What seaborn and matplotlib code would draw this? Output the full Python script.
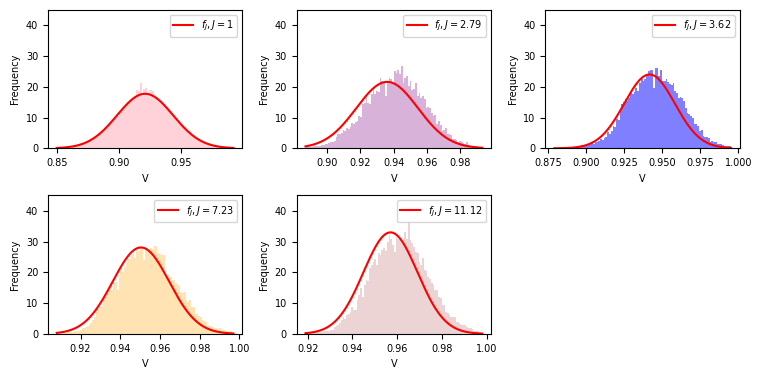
import numpy as np
import pandas as pd
import matplotlib
matplotlib.use("Agg")
import matplotlib.pyplot as plt
import seaborn as sns

# J values shown in legends
j_labels = ["1", "2.79", "3.62", "7.23", "11.12"]

# histogram range (min, max of V) per panel, 100 bins each
v_ranges = [(0.850, 0.992), (0.887, 0.993), (0.879, 0.995), (0.908, 0.997), (0.919, 0.998)]

# fitted normal parameters
fit_mu = [0.921, 0.936, 0.9416, 0.9504, 0.957]
fit_sigma = [0.0225, 0.01847, 0.01662, 0.0142, 0.01209]

# density heights of the 100 bars
heights_j1 = [
    0.1, 0.1, 0.2, 0.2, 0.3, 0.3, 0.4, 0.5, 0.5, 0.6,
    0.8, 0.9, 1.0, 1.2, 1.4, 1.6, 1.9, 2.1, 2.4, 2.8,
    3.1, 3.5, 3.9, 4.3, 4.9, 5.3, 5.9, 6.4, 7.0, 7.6,
    8.3, 8.6, 9.4, 10.2, 10.4, 11.8, 12.5, 13.0, 13.6, 14.1,
    14.9, 15.3, 15.9, 16.0, 17.0, 18.9, 18.5, 21.3, 17.0, 19.2,
    19.5, 17.8, 19.0, 18.8, 18.5, 16.9, 16.5, 16.2, 15.3, 15.0,
    14.3, 13.4, 13.0, 12.0, 11.3, 10.9, 10.2, 9.8, 8.7, 8.2,
    7.7, 7.0, 6.5, 5.9, 5.3, 5.6, 4.4, 3.9, 3.4, 3.0,
    2.7, 2.3, 2.1, 1.8, 1.6, 1.4, 1.2, 1.0, 0.8, 0.7,
    0.6, 0.5, 0.4, 0.35, 0.3, 0.25, 0.2, 0.15, 0.1, 0.1,
]
heights_j279 = [
    0.3, 0.4, 0.4, 0.5, 0.6, 0.6, 0.7, 0.8, 0.9, 1.0,
    1.1, 1.3, 1.4, 1.8, 2.0, 2.2, 2.4, 3.7, 4.5, 4.8,
    5.1, 5.8, 5.6, 6.5, 6.3, 6.8, 8.3, 8.0, 8.5, 8.9,
    10.5, 10.3, 14.5, 14.8, 17.0, 14.6, 14.3, 17.5, 19.7, 17.8,
    18.6, 18.2, 22.7, 22.0, 21.5, 17.0, 22.0, 22.9, 22.6, 20.8,
    25.0, 24.6, 25.6, 24.0, 26.7, 21.3, 22.9, 23.5, 20.2, 21.8,
    19.1, 19.4, 21.3, 17.0, 18.0, 16.4, 17.0, 16.0, 13.2, 13.5,
    13.0, 11.6, 10.5, 10.8, 7.8, 8.9, 7.6, 5.6, 5.9, 6.5,
    4.5, 4.6, 4.3, 2.9, 3.0, 2.6, 2.2, 2.3, 2.0, 1.7,
    1.5, 2.2, 1.0, 0.9, 0.8, 0.7, 0.6, 0.5, 0.5, 0.4,
]
heights_j362 = [
    0.1, 0.1, 0.1, 0.1, 0.1, 0.2, 0.2, 0.3, 0.4, 0.4,
    0.4, 0.5, 0.5, 0.6, 0.8, 1.1, 1.0, 1.2, 1.1, 1.3,
    1.5, 1.6, 1.5, 2.2, 2.0, 2.4, 2.9, 2.8, 3.4, 3.7,
    5.4, 4.5, 5.6, 7.2, 7.0, 9.4, 9.2, 12.1, 14.3, 15.0,
    15.9, 15.3, 16.4, 18.0, 17.6, 18.2, 19.7, 18.6, 21.3, 22.4,
    22.0, 22.6, 24.0, 25.1, 25.6, 25.6, 19.7, 26.2, 26.0, 23.5,
    25.6, 22.0, 21.8, 22.6, 21.5, 20.8, 20.6, 21.3, 18.6, 18.0,
    16.4, 16.6, 16.2, 15.3, 13.2, 11.4, 11.0, 10.4, 9.9, 7.8,
    8.0, 7.2, 5.6, 5.8, 4.0, 3.8, 3.6, 3.5, 2.2, 2.3,
    2.2, 2.0, 1.5, 1.4, 1.5, 1.0, 0.8, 0.7, 0.8, 0.6,
]
heights_j723 = [
    0.2, 0.2, 0.3, 0.3, 0.4, 0.4, 0.5, 0.5, 0.6, 0.7,
    0.8, 0.9, 1.1, 1.3, 1.8, 2.0, 2.4, 2.6, 2.9, 3.6,
    4.5, 5.6, 8.5, 8.2, 8.9, 9.2, 11.6, 12.4, 13.2, 14.3,
    15.9, 14.3, 17.0, 16.8, 14.3, 19.1, 21.3, 20.2, 21.8, 22.9,
    24.5, 24.2, 25.6, 26.1, 24.8, 27.2, 27.0, 28.0, 27.6, 24.0,
    27.5, 27.3, 26.7, 27.8, 27.6, 28.6, 28.6, 26.2, 26.0, 25.8,
    25.8, 19.1, 18.6, 19.2, 18.6, 17.5, 17.4, 16.4, 15.9, 15.7,
    13.7, 13.2, 13.7, 11.0, 10.4, 11.0, 8.9, 8.9, 6.7, 6.5,
    5.9, 5.6, 4.5, 4.3, 4.0, 2.9, 2.7, 2.6, 2.4, 1.8,
    1.8, 1.7, 1.8, 1.3, 1.2, 1.0, 0.9, 0.8, 0.8, 0.6,
]
heights_j1112 = [
    0.2, 0.2, 0.3, 0.3, 0.4, 0.5, 0.5, 0.6, 0.6, 0.7,
    0.8, 0.9, 1.0, 1.1, 1.2, 1.3, 2.4, 2.6, 3.0, 3.5,
    4.5, 5.6, 4.8, 6.2, 6.6, 7.2, 8.9, 7.8, 7.8, 11.0,
    12.6, 14.8, 12.1, 15.9, 17.5, 17.3, 21.3, 22.4, 23.5, 24.5,
    22.4, 26.2, 25.6, 27.2, 27.8, 26.9, 30.0, 32.0, 31.0, 28.9,
    26.7, 31.5, 31.0, 30.5, 29.4, 31.0, 33.2, 31.0, 36.4, 30.5,
    29.4, 28.3, 26.7, 26.2, 23.5, 22.4, 24.8, 20.8, 20.6, 18.6,
    18.0, 16.4, 15.9, 14.3, 14.2, 12.1, 11.6, 9.4, 9.3, 7.2,
    6.8, 6.2, 5.6, 5.5, 5.6, 4.0, 4.0, 3.3, 2.9, 2.9,
    2.9, 2.2, 1.8, 1.8, 1.7, 1.1, 0.9, 0.8, 0.6, 0.5,
]
all_heights = [heights_j1, heights_j279, heights_j362, heights_j723, heights_j1112]

hist_colors = ["pink", "purple", "blue", "orange", "brown"]
hist_alphas = [0.7, 0.3, 0.5, 0.3, 0.2]

plt.rcParams["font.size"] = 7

fig, axes = plt.subplots(2, 3, figsize=(7.61, 3.79), dpi=100)
fig.subplots_adjust(left=0.063, right=0.972, top=0.974, bottom=0.119,
                    wspace=0.28, hspace=0.34)
axes = axes.flatten()

for k in range(5):
    ax = axes[k]
    lo, hi = v_ranges[k]
    n_bins = len(all_heights[k])
    width = (hi - lo) / n_bins
    centers = lo + width * (np.arange(n_bins) + 0.5)
    df = pd.DataFrame({"V": centers, "h": all_heights[k]})

    sns.histplot(data=df, x="V", weights="h", bins=n_bins, binrange=(lo, hi),
                 stat="count", color=hist_colors[k], alpha=hist_alphas[k],
                 edgecolor="none", linewidth=0, ax=ax)

    # normal curve fitted to the sample
    xs = np.linspace(lo, hi, 200)
    pdf = np.exp(-0.5 * ((xs - fit_mu[k]) / fit_sigma[k]) ** 2) / (fit_sigma[k] * np.sqrt(2 * np.pi))
    sns.lineplot(x=xs, y=pdf, color="red", linewidth=1.5,
                 label=rf"$f_J, J = {j_labels[k]}$", ax=ax)

    ax.set_ylim(0, 45)
    ax.set_yticks([0, 10, 20, 30, 40])
    ax.set_xlabel("V")
    ax.set_ylabel("Frequency")
    ax.legend(loc="upper right", fontsize=7)

fig.delaxes(axes[5])

plt.savefig("out.png", dpi=100)
